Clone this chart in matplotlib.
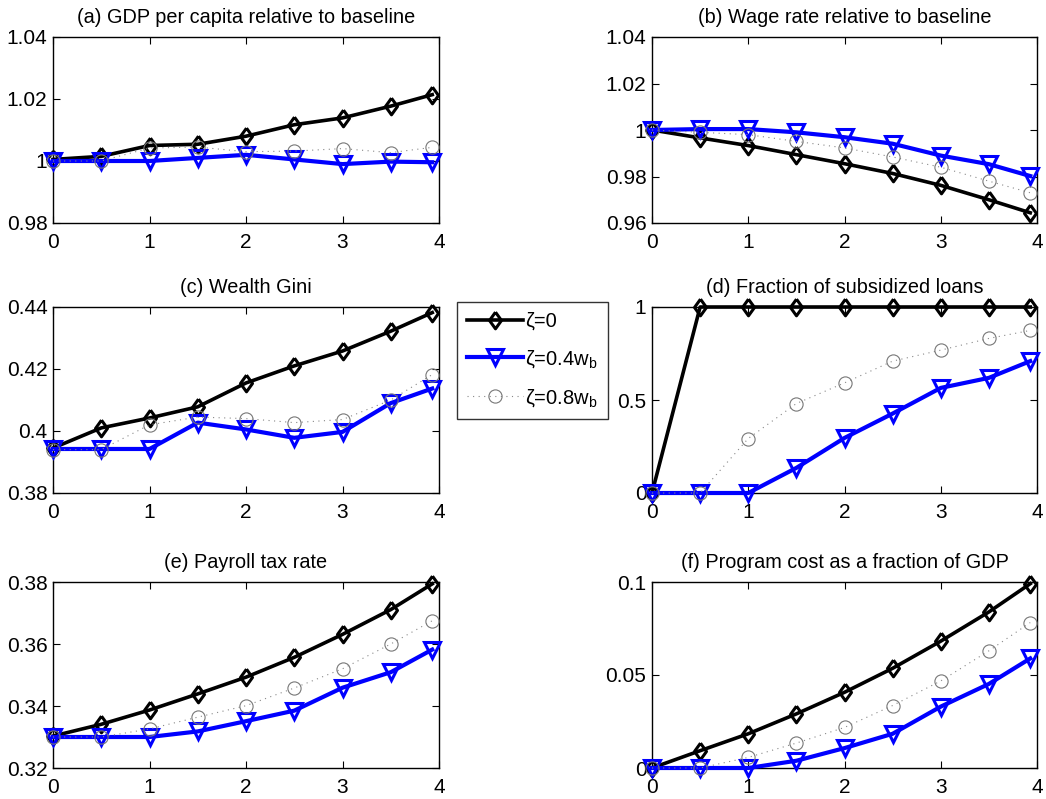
import matplotlib
matplotlib.use("Agg")
import matplotlib.pyplot as plt
from matplotlib.ticker import FixedLocator, FixedFormatter

plt.rcParams['font.family'] = ['Liberation Sans', 'DejaVu Sans']
plt.rcParams['mathtext.fontset'] = 'custom'
plt.rcParams['mathtext.rm'] = 'Liberation Sans'
plt.rcParams['mathtext.it'] = 'Liberation Sans:italic'

x = [0, 0.5, 1, 1.5, 2, 2.5, 3, 3.5, 3.93]

series_labels = ['ζ=0', 'ζ=0.4w$_\\mathrm{b}$', 'ζ=0.8w$_\\mathrm{b}$']

titles = ['(a) GDP per capita relative to baseline',
          '(b) Wage rate relative to baseline',
          '(c) Wealth Gini',
          '(d) Fraction of subsidized loans',
          '(e) Payroll tax rate',
          '(f) Program cost as a fraction of GDP']

# (a) GDP per capita
gdp_z0 = [1.0005, 1.0015, 1.005, 1.0054, 1.008, 1.0117, 1.0139, 1.0177, 1.0214]
gdp_z04 = [1.000, 1.000, 1.000, 1.001, 1.002, 1.0005, 0.999, 0.9998, 0.9996]
gdp_z08 = [1.000, 1.000, 1.0042, 1.0045, 1.003, 1.0032, 1.004, 1.0027, 1.0044]
# (b) Wage rate
wage_z0 = [1.000, 0.9966, 0.9933, 0.9894, 0.9855, 0.9813, 0.9762, 0.970, 0.9644]
wage_z04 = [1.000, 1.0004, 1.0004, 0.999, 0.9969, 0.9941, 0.989, 0.9853, 0.9802]
wage_z08 = [1.000, 0.999, 0.998, 0.9951, 0.9923, 0.9884, 0.984, 0.978, 0.973]
# (c) Wealth Gini
gini_z0 = [0.3945, 0.401, 0.4042, 0.4078, 0.4155, 0.421, 0.4258, 0.4322, 0.4382]
gini_z04 = [0.3942, 0.3942, 0.3942, 0.4027, 0.4005, 0.3978, 0.3997, 0.409, 0.4137]
gini_z08 = [0.394, 0.394, 0.402, 0.4045, 0.404, 0.4027, 0.4037, 0.410, 0.4182]
# (d) Fraction of subsidized loans
frac_z0 = [0, 1, 1, 1, 1, 1, 1, 1, 1]
frac_z04 = [0, 0, 0, 0.135, 0.296, 0.427, 0.565, 0.619, 0.709]
frac_z08 = [0, 0, 0.293, 0.481, 0.592, 0.709, 0.768, 0.831, 0.874]
# (e) Payroll tax rate
tax_z0 = [0.3303, 0.3341, 0.3387, 0.3439, 0.3493, 0.3557, 0.3631, 0.3711, 0.3794]
tax_z04 = [0.330, 0.330, 0.330, 0.3318, 0.3351, 0.3385, 0.3459, 0.3509, 0.3582]
tax_z08 = [0.330, 0.330, 0.3326, 0.3364, 0.3401, 0.3458, 0.352, 0.360, 0.3675]
# (f) Program cost
cost_z0 = [0, 0.0093, 0.0184, 0.0291, 0.0407, 0.0536, 0.0682, 0.0839, 0.0991]
cost_z04 = [0, 0, 0, 0.0039, 0.0107, 0.0184, 0.033, 0.0452, 0.0589]
cost_z08 = [0, 0, 0.0057, 0.0134, 0.0218, 0.0336, 0.0468, 0.063, 0.0782]

panels = [
    (gdp_z0, gdp_z04, gdp_z08, (0.98, 1.04), [0.98, 1.0, 1.02, 1.04], ['0.98', '1', '1.02', '1.04']),
    (wage_z0, wage_z04, wage_z08, (0.96, 1.04), [0.96, 0.98, 1.0, 1.02, 1.04], ['0.96', '0.98', '1', '1.02', '1.04']),
    (gini_z0, gini_z04, gini_z08, (0.38, 0.44), [0.38, 0.40, 0.42, 0.44], ['0.38', '0.4', '0.42', '0.44']),
    (frac_z0, frac_z04, frac_z08, (0, 1), [0, 0.5, 1], ['0', '0.5', '1']),
    (tax_z0, tax_z04, tax_z08, (0.32, 0.38), [0.32, 0.34, 0.36, 0.38], ['0.32', '0.34', '0.36', '0.38']),
    (cost_z0, cost_z04, cost_z08, (0, 0.1), [0, 0.05, 0.1], ['0', '0.05', '0.1']),
]

W, H = 1046, 799
fig = plt.figure(figsize=(W / 100, H / 100), dpi=100)

col_px = [(53, 439), (652, 1037)]
row_px = [(37, 223), (307, 493), (582, 768)]

diamond = [(0, 1), (0.72, 0), (0, -1), (-0.72, 0), (0, 1)]

handles = None
for i, (s0, s1, s2, ylim, yt, ytl) in enumerate(panels):
    r, c = divmod(i, 2)
    l, rr = col_px[c]
    t, b = row_px[r]
    ax = fig.add_axes([l / W, 1 - b / H, (rr - l) / W, (b - t) / H])
    h0, = ax.plot(x, s0, color='black', lw=2.6, marker=diamond, ms=12, mfc='none',
                  mec='black', mew=2.2, clip_on=False, zorder=3)
    h1, = ax.plot(x, s1, color='#0000ff', lw=3, marker='v', ms=12, mfc='none',
                  mec='#0000ff', mew=2.2, clip_on=False, zorder=4)
    h2, = ax.plot(x, s2, color='#888888', lw=0.8, ls=(0, (1, 4)), marker='o', ms=9.5,
                  mfc='none', mec='#777777', mew=0.8, clip_on=False, zorder=5)
    handles = [h0, h1, h2]
    ax.set_xlim(0, 4)
    ax.set_ylim(*ylim)
    ax.xaxis.set_major_locator(FixedLocator([0, 1, 2, 3, 4]))
    ax.xaxis.set_major_formatter(FixedFormatter(['0', '1', '2', '3', '4']))
    ax.yaxis.set_major_locator(FixedLocator(yt))
    ax.yaxis.set_major_formatter(FixedFormatter(ytl))
    ax.tick_params(direction='in', top=True, right=True, length=5, width=0.8,
                   labelsize=15)
    ax.tick_params(axis='x', pad=7)
    ax.tick_params(axis='y', pad=4)
    for sp in ax.spines.values():
        sp.set_linewidth(1.0)
    ax.set_title(titles[i], fontsize=14.3, pad=10)

leg = fig.legend(handles, series_labels, loc='upper left',
                 bbox_to_anchor=(457 / W, 1 - 302 / H), borderaxespad=0,
                 fontsize=14.5, frameon=True, fancybox=False, edgecolor='black',
                 handlelength=2.8, borderpad=0.5, labelspacing=0.85, handletextpad=0.1)
leg.get_frame().set_linewidth(1.0)

fig.savefig('out.png', dpi=100)
